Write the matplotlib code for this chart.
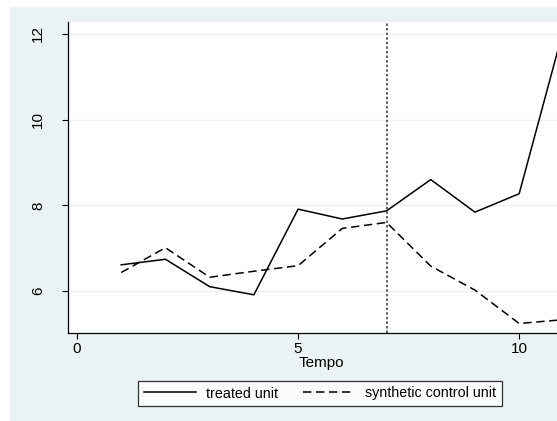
import matplotlib.pyplot as plt
from matplotlib.patches import Rectangle

plt.rcParams['font.family'] = ['Liberation Sans', 'DejaVu Sans']

# data
tempo = [1, 2, 3, 4, 5, 6, 7, 8, 9, 10, 11]
treated = [6.61, 6.74, 6.10, 5.91, 7.91, 7.68, 7.87, 8.60, 7.84, 8.27, 12.1]
synthetic = [6.43, 7.01, 6.32, 6.46, 6.59, 7.46, 7.60, 6.58, 6.02, 5.24, 5.33]
x_ticks = [0, 5, 10]
y_ticks = [6, 8, 10, 12]
treat_time = 7

W, H = 557, 421
bg = '#eaf2f3'

fig = plt.figure(figsize=(W / 100, H / 100), dpi=100, facecolor='white')
fig.patches.append(Rectangle((10 / W, 0), 1, 1 - 7 / H, transform=fig.transFigure,
                             facecolor=bg, edgecolor='none', zorder=-10))

# plot region runs past the right edge of the picture (cropped)
left, right = 68 / W, 574 / W
bottom, top = 1 - 333 / H, 1 - 22 / H
ax = fig.add_axes([left, bottom, right - left, top - bottom])
ax.set_zorder(1)
ax.set_facecolor('white')

ax.plot(tempo, treated, color='black', lw=1.1, label='treated unit')
ax.plot(tempo, synthetic, color='black', lw=1.1, dashes=(5.5, 3),
        label='synthetic control unit')
ax.axvline(treat_time, color='#333333', lw=1.1, linestyle=(0, (1.6, 1.4)))

ax.set_xlim(-0.2036, 11.24)
ax.set_ylim(5.018, 12.28)
ax.set_xticks(x_ticks)
ax.set_yticks(y_ticks)
ax.set_yticklabels([str(v) for v in y_ticks], rotation=90, va='center')
ax.tick_params(axis='both', labelsize=11, length=4.3, width=0.8, color='black')
ax.tick_params(axis='y', pad=12)
ax.tick_params(axis='x', pad=2.5)
ax.yaxis.grid(True, color=bg, lw=1)
ax.set_axisbelow(True)
ax.set_xlabel('Tempo', fontsize=11, labelpad=0)

for s in ['top', 'right']:
    ax.spines[s].set_visible(False)
for s in ['left', 'bottom']:
    ax.spines[s].set_linewidth(0.9)

leg = fig.legend(loc='center', bbox_to_anchor=(320 / W, 1 - 393.5 / H), ncol=2,
                 frameon=True, fancybox=False, fontsize=10.3, handlelength=3.6,
                 columnspacing=1.8, handletextpad=0.7, borderpad=0.4)
leg.get_frame().set_edgecolor('black')
leg.get_frame().set_linewidth(0.9)

fig.savefig('out.png', dpi=100, facecolor='white')
